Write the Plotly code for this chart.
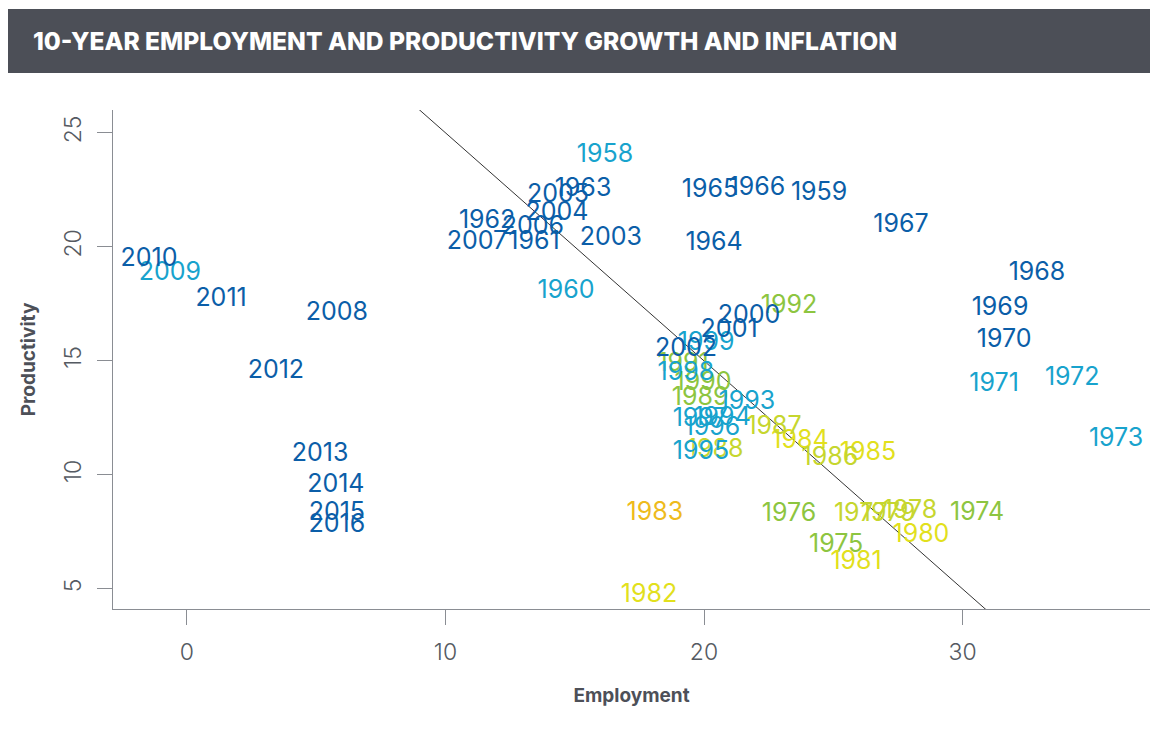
import plotly.graph_objects as go

# ---- data ----
years = [1958, 1959, 1960, 1961, 1962, 1963, 1964, 1965, 1966, 1967, 1968, 1969,
         1970, 1971, 1972, 1973, 1974, 1975, 1976, 1977, 1978, 1979, 1980, 1981,
         1982, 1983, 1984, 1985, 1986, 1987, 1988, 1989, 1990, 1991, 1992, 1993,
         1994, 1995, 1996, 1997, 1998, 1999, 2000, 2001, 2002, 2003, 2004, 2005,
         2006, 2007, 2008, 2009, 2010, 2011, 2012, 2013, 2014, 2015, 2016]

employment = [16.17, 24.45, 14.66, 13.42, 11.61, 15.32, 20.39, 20.23, 22.05, 27.62, 32.88, 31.45,
              31.61, 31.22, 34.24, 35.94, 30.56, 25.11, 23.29, 26.07, 27.97, 27.12, 28.39, 25.88,
              17.87, 18.10, 23.71, 26.34, 24.87, 22.71, 20.43, 19.85, 19.96, 19.19, 23.29, 21.66,
              20.70, 19.88, 20.31, 19.85, 19.30, 20.08, 21.74, 20.97, 19.30, 16.40, 14.31, 14.35,
              13.38, 11.22, 5.80, -0.66, -1.47, 1.32, 3.44, 5.15, 5.76, 5.80, 5.80]

productivity = [24.00, 22.33, 18.03, 20.18, 21.10, 22.51, 20.14, 22.46, 22.55, 20.93, 18.82, 17.29,
                15.88, 13.96, 14.22, 11.54, 8.30, 6.89, 8.25, 8.25, 8.38, 8.25, 7.33, 6.15,
                4.70, 8.30, 11.46, 10.93, 10.71, 12.07, 11.06, 13.34, 14.00, 14.83, 17.38, 13.17,
                12.46, 10.97, 12.03, 12.42, 14.44, 15.75, 16.94, 16.32, 15.49, 20.36, 21.46, 22.24,
                20.84, 20.18, 17.07, 18.82, 19.44, 17.68, 14.53, 10.88, 9.53, 8.30, 7.77]

# inflation colour group for each year
inflation_group = ["cyan", "dark", "cyan", "dark", "dark", "dark", "dark", "dark", "dark", "dark", "dark", "dark",
                   "dark", "cyan", "cyan", "cyan", "green", "green", "green", "lime", "lime", "lime", "yellow", "yellow",
                   "yellow", "orange", "yellow", "yellow", "lime", "lime", "lime", "green", "green", "green", "green", "cyan",
                   "cyan", "cyan", "cyan", "cyan", "cyan", "cyan", "dark", "dark", "dark", "dark", "dark", "dark",
                   "dark", "dark", "dark", "cyan", "dark", "dark", "dark", "dark", "dark", "dark", "dark"]

group_colors = {"dark": "#0b5ea8", "cyan": "#18a3cd", "green": "#8dc540",
                "lime": "#c6d62e", "yellow": "#e2e01c", "orange": "#eebb1c"}

fit_intercept = 35.0
fit_slope = -1.0

x_ticks = [0, 10, 20, 30]
y_ticks = [5, 10, 15, 20, 25]
x_range = [-2.86, 37.25]
y_range = [4.12, 26.0]

title_text = "10-YEAR EMPLOYMENT AND PRODUCTIVITY GROWTH AND INFLATION"

# ---- figure ----
fig = go.Figure()

line_x = [x_range[0], x_range[1]]
line_y = [fit_intercept + fit_slope * v for v in line_x]
fig.add_trace(go.Scatter(x=line_x, y=line_y, mode="lines",
                         line=dict(color="#333333", width=1), hoverinfo="skip",
                         showlegend=False))

fig.add_trace(go.Scatter(
    x=employment, y=productivity, mode="text", text=[str(y) for y in years],
    textposition="middle center",
    textfont=dict(family="Inter", size=25,
                  color=[group_colors[g] for g in inflation_group]),
    cliponaxis=False, showlegend=False))

# page is drawn with an 8px body offset
OFF = 8
W, H = 1158, 739
ml, mr, mt, mb = 113 - OFF, 16, 110 - OFF, 138
pw, ph = W - ml - mr, H - mt - mb

def px_to_paper_x(p):
    return (p - OFF - ml) / pw

def px_to_paper_y(p):
    return (H - mb - (p - OFF)) / ph

fig.add_shape(type="rect", xref="paper", yref="paper",
              x0=px_to_paper_x(7), x1=px_to_paper_x(1170),
              y0=px_to_paper_y(73), y1=px_to_paper_y(9),
              fillcolor="#4c4f57", line=dict(width=0), layer="below")

fig.add_annotation(xref="paper", yref="paper", x=px_to_paper_x(31), y=px_to_paper_y(41),
                   xanchor="left", yanchor="middle", showarrow=False,
                   text=title_text,
                   font=dict(family="Inter", size=24.6, color="white", weight=800))

axis_common = dict(showgrid=False, zeroline=False, showline=True, linecolor="#8a8d93",
                   linewidth=1, ticks="outside", ticklen=15, tickcolor="#8a8d93",
                   ticklabelstandoff=7, automargin=False,
                   tickfont=dict(family="Inter", size=23, color="#555a62", weight=300))

fig.update_xaxes(range=x_range, tickvals=x_ticks, **axis_common,
                 title=dict(text="Employment", standoff=24,
                            font=dict(family="Inter", size=19, color="#4d5058", weight=700)))
fig.update_yaxes(range=y_range, tickvals=y_ticks, tickangle=-90, **axis_common,
                 title=dict(text="Productivity", standoff=18,
                            font=dict(family="Inter", size=19, color="#4d5058", weight=700)))

fig.update_layout(width=W, height=H, margin=dict(l=ml, r=mr, t=mt, b=mb, autoexpand=False),
                  plot_bgcolor="white", paper_bgcolor="white")

fig.write_html("out.html")
